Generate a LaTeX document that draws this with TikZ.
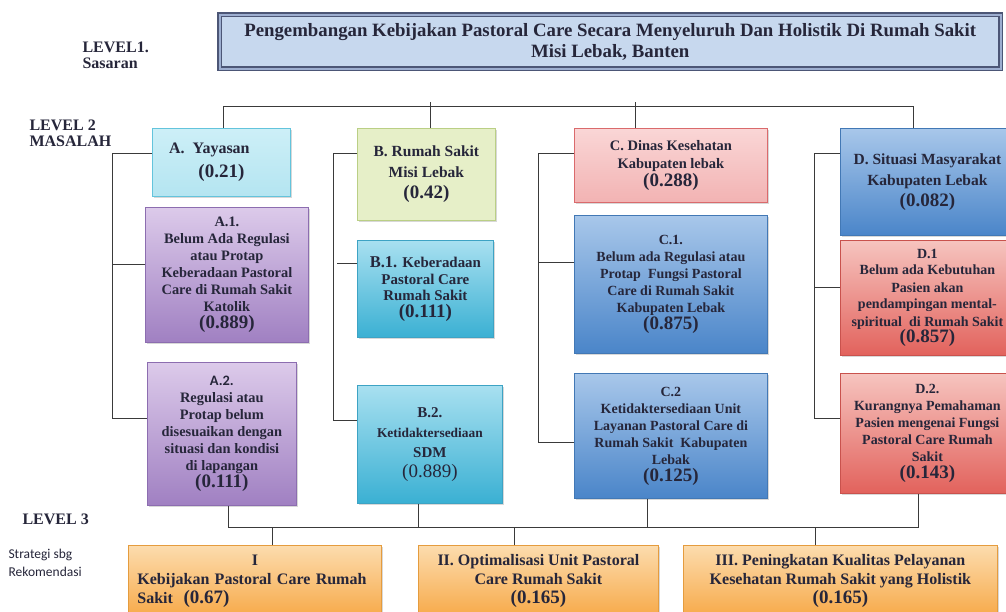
\documentclass[tikz,border=0pt]{standalone}
\usepackage{fontspec}
\setmainfont{Liberation Serif}
\newfontfamily\calibrifont{Carlito}
\usepackage{tikz}
\usetikzlibrary{positioning,shadows}

\definecolor{inkdark}{HTML}{26263A}
\definecolor{linegray}{HTML}{3A3A3A}
\definecolor{titlefill}{HTML}{C7D8EE}
\definecolor{titleedge}{HTML}{4C5676}
\definecolor{titlerim}{HTML}{9DAED0}
\definecolor{cyantop}{HTML}{CDEFF7}
\definecolor{cyanbot}{HTML}{B4E5F1}
\definecolor{cyanedge}{HTML}{63C4DC}
\definecolor{purpletop}{HTML}{DCCAEA}
\definecolor{purplebot}{HTML}{A080C2}
\definecolor{purpleedge}{HTML}{8C6DB0}
\definecolor{limefill}{HTML}{E6EFC8}
\definecolor{limeedge}{HTML}{BACF85}
\definecolor{aquatop}{HTML}{A8E0F0}
\definecolor{aquabot}{HTML}{3AB0D3}
\definecolor{aquaedge}{HTML}{3DA3C4}
\definecolor{pinktop}{HTML}{FAD6D6}
\definecolor{pinkbot}{HTML}{F2B3B3}
\definecolor{pinkedge}{HTML}{DA6A6C}
\definecolor{bluetop}{HTML}{A8C7EA}
\definecolor{bluebot}{HTML}{4A85C9}
\definecolor{blueedge}{HTML}{4278B5}
\definecolor{redtop}{HTML}{F6C4BF}
\definecolor{redbot}{HTML}{E2625C}
\definecolor{rededge}{HTML}{C9524D}
\definecolor{orangetop}{HTML}{FCDCAE}
\definecolor{orangebot}{HTML}{F7A948}
\definecolor{orangeedge}{HTML}{E59C3E}

\newcommand{\bobot}[1]{{\fontsize{19}{21}\selectfont(#1)}}

\begin{document}
\begin{tikzpicture}[x=1pt, y=-1pt,
    link/.style={draw=linegray, line width=1pt},
    box/.style={draw, line width=0.8pt, anchor=north west, align=center, inner sep=2pt,
        text=inkdark, font=\bfseries\fontsize{14}{17}\selectfont,
        drop shadow={shadow xshift=1.5pt, shadow yshift=-2pt, opacity=0.3}},
    cyanbox/.style={box, draw=cyanedge, top color=cyantop, bottom color=cyanbot},
    purplebox/.style={box, draw=purpleedge, top color=purpletop, bottom color=purplebot,
        font=\bfseries\fontsize{14.4}{17}\selectfont},
    limebox/.style={box, draw=limeedge, fill=limefill},
    aquabox/.style={box, draw=aquaedge, top color=aquatop, bottom color=aquabot},
    pinkbox/.style={box, draw=pinkedge, top color=pinktop, bottom color=pinkbot},
    bluebox/.style={box, draw=blueedge, top color=bluetop, bottom color=bluebot},
    redbox/.style={box, draw=rededge, top color=redtop, bottom color=redbot},
    orangebox/.style={box, draw=orangeedge, top color=orangetop, bottom color=orangebot,
        font=\bfseries\fontsize{16}{19}\selectfont},
    level/.style={anchor=west, align=left, text=inkdark, font=\bfseries\fontsize{16}{16}\selectfont}]

    \path[use as bounding box] (0,0) rectangle (1006,612);
    \clip (0,0) rectangle (1006,612);
    \fill[white] (0,0) rectangle (1006,612);

    % level labels
    \node[level] (level_1) at (79,55) {LEVEL1.\\Sasaran};
    \node[level] (level_2) at (26,133) {LEVEL 2\\MASALAH};
    \node[level] (level_3) at (19,519) {LEVEL 3};
    \node[anchor=west, align=left, text=inkdark, font=\calibrifont\fontsize{13.5}{18}\selectfont] (rekomendasi) at (5,563) {Strategi sbg\\Rekomendasi};

    % level 1
    \node[box, draw=titleedge, line width=1.4pt, double=titlerim, double distance=2pt, fill=titlefill,
        minimum width=781, minimum height=54, font=\bfseries\fontsize{18.8}{21}\selectfont] (sasaran) at (219,14)
        {Pengembangan Kebijakan Pastoral Care Secara Menyeluruh Dan Holistik Di Rumah Sakit\\Misi Lebak, Banten};

    % level 2, kolom A
    \node[cyanbox, minimum width=138, minimum height=68, font=\bfseries\fontsize{16}{24}\selectfont] (yayasan) at (152,128)
        {A.\ \ Yayasan\hspace*{24pt}\\\bobot{0.21}};
    \node[purplebox, minimum width=163, minimum height=135] (yayasan_1) at (145,207)
        {A.1.\\Belum Ada Regulasi\\atau Protap\\Keberadaan Pastoral\\Care di Rumah Sakit\\Katolik\\\bobot{0.889}};
    \node[purplebox, minimum width=149, minimum height=143] (yayasan_2) at (147,362)
        {{\calibrifont A.2.}\\Regulasi atau\\Protap belum\\disesuaikan dengan\\situasi dan kondisi\\di lapangan\\\bobot{0.111}};

    % kolom B
    \node[limebox, minimum width=138, minimum height=92, font=\bfseries\fontsize{15.5}{21}\selectfont] (rumah_sakit) at (357,128)
        {B. Rumah Sakit\\Misi Lebak\\\bobot{0.42}};
    \node[aquabox, minimum width=136, minimum height=97, font=\bfseries\fontsize{14.9}{16.5}\selectfont] (rs_1) at (357,240)
        {{\fontsize{16.5}{17}\selectfont B.1.} Keberadaan\\Pastoral Care\\Rumah Sakit\\\bobot{0.111}};
    \node[aquabox, minimum width=145, minimum height=118, font=\bfseries\fontsize{13.4}{20}\selectfont] (rs_2) at (357,385)
        {{\fontsize{15}{20}\selectfont B.2.}\\Ketidaktersediaan\\{\fontsize{15}{20}\selectfont SDM}\\{\mdseries\bobot{0.889}}};

    % kolom C
    \node[pinkbox, minimum width=193, minimum height=74, font=\bfseries\fontsize{14.5}{18}\selectfont] (dinkes) at (574,128)
        {C. Dinas Kesehatan\\Kabupaten lebak\\\bobot{0.288}};
    \node[bluebox, minimum width=193, minimum height=138] (dinkes_1) at (574,215)
        {C.1.\\Belum ada Regulasi atau\\Protap\ \ Fungsi Pastoral\\Care di Rumah Sakit\\Kabupaten Lebak\\\bobot{0.875}};
    \node[bluebox, minimum width=193, minimum height=125] (dinkes_2) at (574,373)
        {C.2\\Ketidaktersediaan Unit\\Layanan Pastoral Care di\\Rumah Sakit\ \ Kabupaten\\Lebak\\\bobot{0.125}};

    % kolom D
    \node[bluebox, minimum width=174, minimum height=107, font=\bfseries\fontsize{15.5}{21}\selectfont] (masyarakat) at (840,128)
        {D. Situasi Masyarakat\\Kabupaten Lebak\\\bobot{0.082}};
    \node[redbox, minimum width=174, minimum height=115] (masy_1) at (840,240)
        {D.1\\Belum ada Kebutuhan\\Pasien akan\\pendampingan mental-\\spiritual\ \ di Rumah Sakit\\\bobot{0.857}};
    \node[redbox, minimum width=174, minimum height=120] (masy_2) at (840,373)
        {D.2.\\Kurangnya Pemahaman\\Pasien mengenai Fungsi\\Pastoral Care Rumah\\Sakit\\\bobot{0.143}};

    % level 3
    \node[orangebox, minimum width=253, minimum height=72, text width=235, inner xsep=9pt, align=left] (strategi_1) at (128,545)
        {{\centering I\par}Kebijakan Pastoral Care Rumah\\Sakit\ \ \bobot{0.67}};
    \node[orangebox, minimum width=240, minimum height=72] (strategi_2) at (418,545)
        {II. Optimalisasi Unit Pastoral\\Care Rumah Sakit\\\bobot{0.165}};
    \node[orangebox, minimum width=314, minimum height=72] (strategi_3) at (683,545)
        {III. Peningkatan Kualitas Pelayanan\\Kesehatan Rumah Sakit yang Holistik\\\bobot{0.165}};

    % garis level 1 ke level 2
    \draw[link] ([xshift=2pt]yayasan.north) -- ++(0,-21) -| ([xshift=-14pt]masyarakat.north);
    \draw[link] ([xshift=4pt]rumah_sakit.north) -- ++(0,-26);
    \draw[link] ([xshift=-35pt]dinkes.north) -- ++(0,-26);

    % kurung tiap kolom
    \draw[link] ([yshift=9pt]yayasan.west) -- +(-40,0) |- ([yshift=15pt]yayasan_2.west);
    \draw[link] ([yshift=10pt]yayasan_1.west) -- +(-33,0);
    \draw[link] ([yshift=21pt]rumah_sakit.west) -- +(-24,0) |- ([yshift=24pt]rs_2.west);
    \draw[link] ([yshift=25pt]rs_1.west) -- +(-20,0);
    \draw[link] ([yshift=12pt]dinkes.west) -- +(-36,0) |- ([yshift=-7pt]dinkes_2.west);
    \draw[link] ([yshift=22pt]dinkes_1.west) -- +(-36,0);
    \draw[link] ([yshift=28pt]masyarakat.west) -- +(-26,0) |- ([yshift=15pt]masy_2.west);
    \draw[link] ([yshift=10pt]masy_1.west) -- +(-26,0);

    % garis level 2 ke level 3
    \draw[link] ([xshift=7pt]yayasan_2.south) -- ++(0,22) -| ([xshift=-9pt]masy_2.south);
    \draw[link] ([xshift=-11pt]rs_2.south) -- ++(0,24);
    \draw[link] ([xshift=-23pt]dinkes_2.south) -- ++(0,29);
    \draw[link] ([xshift=18pt]strategi_1.north) -- ++(0,-18);
    \draw[link] ([xshift=-24pt]strategi_2.north) -- ++(0,-18);
    \draw[link] ([xshift=-25pt]strategi_3.north) -- ++(0,-18);
\end{tikzpicture}
\end{document}
